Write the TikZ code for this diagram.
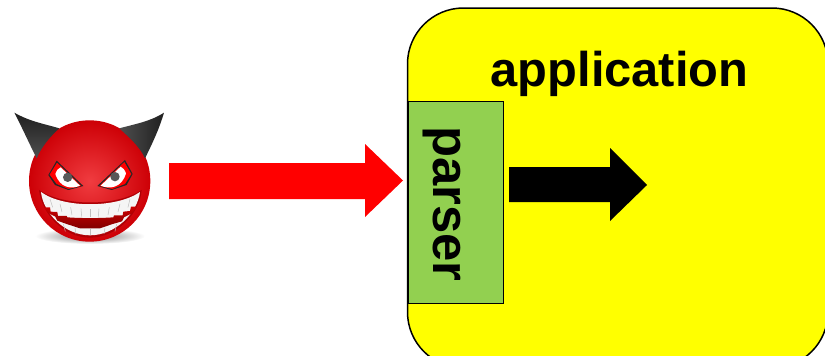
\documentclass[tikz,border=0pt]{standalone}
\usepackage{fontspec}
\setmainfont{Liberation Sans}
\begin{document}
\begin{tikzpicture}[x=1bp,y=-1bp,
  label/.style={font=\bfseries\fontsize{#1}{#1}\selectfont,text=black,inner sep=0pt},
  eyeball/.style={fill=white},
  pupil/.style={fill=black!65},
  tooth/.style={draw=black!25,line width=0.5bp}]
\definecolor{appyellow}{RGB}{255,255,0}
\definecolor{parsergreen}{RGB}{146,208,80}
\definecolor{ballmid}{RGB}{240,60,64}
\definecolor{ballrim}{RGB}{205,0,6}
\definecolor{mouthdark}{RGB}{130,0,0}
\definecolor{hornlight}{RGB}{78,78,78}
\definecolor{horndark}{RGB}{32,32,32}
\useasboundingbox (0,0) rectangle (825,355);
\begin{scope}
\clip (0,0) rectangle (825,355);
\draw[fill=appyellow,line width=1.5bp,rounded corners=56bp] (407.5,8) rectangle (828,368);
\end{scope}
\node[label=49] (app) at (619.5,74) {application};
\node[draw=black,fill=parsergreen,line width=1bp,minimum width=95bp,minimum height=202bp,inner sep=0pt,anchor=north west] (parser) at (407.5,101) {};
\node[label=51,rotate=-90] (parsertext) at (442,204) {parser};
\fill[red] (169,163) -- (365,163) -- (365,144) -- (403,180.5) -- (365,217) -- (365,199) -- (169,199) -- cycle;
\fill[black] (509,167) -- (610,167) -- (610,148) -- (647,185) -- (610,221) -- (610,202) -- (509,202) -- cycle;
% devil, drawn in the 3x coordinates of the crop
\begin{scope}[shift={(0,100)},scale=0.3333]
 % shadow
 \shade[inner color=black!50,outer color=white] (270,408) ellipse (165 and 24);
 % ball
 \shade[inner color=ballmid,outer color=ballrim] (269,243) circle (182);
 % horns
 \shade[left color=horndark,right color=hornlight,shading angle=0] (43,38) .. controls (90,65) and (135,72) .. (178,85) .. controls (150,110) and (125,140) .. (110,175) .. controls (85,125) and (65,80) .. (43,38) -- cycle;
 \shade[left color=hornlight,right color=horndark] (492,38) .. controls (450,65) and (405,72) .. (358,85) .. controls (385,110) and (420,140) .. (435,175) .. controls (460,125) and (480,80) .. (492,38) -- cycle;
 % left eye
 \fill[black!85] (145,225) -- (170,182) -- (250,258) -- (205,270) -- (165,255) -- cycle;
 \fill[red] (149,224) -- (171,188) -- (244,258) -- (205,267) -- (170,252) -- cycle;
 \fill[eyeball] (166,222) .. controls (170,210) and (176,204) .. (182,202) -- (240,257) .. controls (215,268) and (180,265) .. (166,222) -- cycle;
 \fill[pupil] (203,232) circle (14);
 % right eye
 \fill[black!85] (398,222) -- (375,180) -- (292,258) -- (335,270) -- (380,255) -- cycle;
 \fill[red] (394,222) -- (373,186) -- (298,258) -- (337,267) -- (375,252) -- cycle;
 \fill[eyeball] (378,220) .. controls (374,208) and (368,204) .. (362,200) -- (302,257) .. controls (328,268) and (365,265) .. (378,220) -- cycle;
 \fill[pupil] (345,230) circle (14);
 % mouth
 \fill[ballrim!85!black] (117,270) .. controls (190,320) and (350,320) .. (425,270) .. controls (420,340) and (350,413) .. (270,413) .. controls (190,413) and (125,340) .. (117,270) -- cycle;
 \fill[black!4] (123,276) .. controls (190,325) and (350,325) .. (420,276) .. controls (412,340) and (345,406) .. (270,406) .. controls (195,406) and (130,340) .. (123,276) -- cycle;
 % upper teeth
 \foreach \xa/\ya/\xb/\yb in {150/297/158/322,180/312/186/336,212/322/216/345,243/326/245/350,
   270/328/270/350,297/326/295/350,328/322/324/345,360/312/354/336,390/297/384/322}{
   \draw[tooth] (\xa,\ya) -- (\xb,\yb);
 }
 % gap between the rows
 \shade[top color=red!80!black,bottom color=mouthdark] (132,322) -- (150,322) -- (152,335) -- (172,336) -- (174,348) -- (200,348) -- (202,352)
   .. controls (240,355) and (300,355) .. (340,352) -- (342,346) -- (368,346) -- (370,335) -- (390,333) -- (393,320) -- (410,320)
   -- (396,340) -- (372,352) -- (366,364) -- (338,372) -- (300,385) -- (240,385) -- (200,372) -- (172,362) -- (166,350) -- (146,340) -- cycle;
 % lower teeth
 \foreach \xa/\ya/\xb/\yb in {190/372/196/394,225/384/228/402,270/388/270/405,315/384/312/402,350/372/345/394}{
   \draw[tooth] (\xa,\ya) -- (\xb,\yb);
 }
\end{scope}
\end{tikzpicture}
\end{document}
